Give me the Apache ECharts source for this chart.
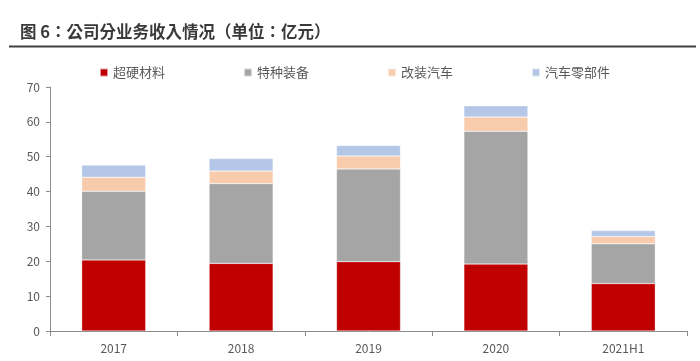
<!DOCTYPE html>
<html>
<head>
<meta charset="utf-8">
<script src="https://cdn.jsdelivr.net/npm/echarts@6/dist/echarts.min.js"></script>
<style>
html,body{margin:0;padding:0;background:#fff;}
#c{width:700px;height:361px;}
</style>
</head>
<body>
<div id="c"></div>
<script>
var categories = ['2017', '2018', '2019', '2020', '2021H1'];
var seriesNames = ['超硬材料', '特种装备', '改装汽车', '汽车零部件'];
var superhard = [20.4, 19.4, 19.9, 19.2, 13.6];
var special = [19.7, 22.9, 26.6, 38.1, 11.4];
var modified = [4.0, 3.6, 3.7, 4.1, 2.1];
var parts = [3.5, 3.6, 3.0, 3.2, 1.7];
var yTicks = [0, 10, 20, 30, 40, 50, 60, 70];
var titleText = '图 6：公司分业务收入情况（单位：亿元）';

var colors = ['#C00000', '#A5A5A5', '#F8CBAD', '#B4C7E7'];
var font = '"Noto Sans CJK SC", "Microsoft YaHei", sans-serif';
var titleFont = '"Noto Sans CJK TC", "Noto Sans CJK SC", sans-serif';
var chart = echarts.init(document.getElementById('c'), null, {renderer: 'canvas'});
var dataSets = [superhard, special, modified, parts];
var series = dataSets.map(function (d, i) {
  return {
    name: seriesNames[i],
    type: 'bar',
    stack: 'total',
    data: d,
    barWidth: 64,
    itemStyle: {color: colors[i], borderColor: 'rgba(255,255,255,0.6)', borderWidth: 0.5},
    emphasis: {disabled: true}
  };
});
chart.setOption({
  animation: false,
  color: colors,
  textStyle: {fontFamily: font},
  graphic: [
    {type: 'text', left: 20, top: 23, style: {text: titleText, font: 'bold 16.5px ' + titleFont, fill: '#3a3a3a'}},
    {type: 'line', shape: {x1: 9, y1: 46.5, x2: 696, y2: 46.5}, style: {stroke: '#404040', lineWidth: 2}}
  ],
  legend: {
    top: 61,
    left: 94,
    itemWidth: 8,
    itemHeight: 8,
    itemGap: 78,
    icon: 'rect',
    textStyle: {fontSize: 13, color: '#595959', fontFamily: font},
    data: seriesNames
  },
  grid: {left: 50, right: 13, top: 87, bottom: 30, containLabel: false},
  xAxis: {
    type: 'category',
    data: categories,
    axisLine: {lineStyle: {color: '#8c8c8c', width: 1}},
    axisTick: {show: true, alignWithLabel: false, length: 5, lineStyle: {color: '#8c8c8c'}},
    axisLabel: {color: '#595959', fontSize: 12, margin: 11, fontFamily: font}
  },
  yAxis: {
    type: 'value',
    min: yTicks[0],
    max: yTicks[yTicks.length - 1],
    interval: 10,
    axisLine: {show: true, lineStyle: {color: '#8c8c8c', width: 1}},
    axisTick: {show: true, length: 4, lineStyle: {color: '#8c8c8c'}},
    splitLine: {show: false},
    axisLabel: {color: '#595959', fontSize: 12, margin: 10, fontFamily: font}
  },
  series: series
});
</script>
</body>
</html>
